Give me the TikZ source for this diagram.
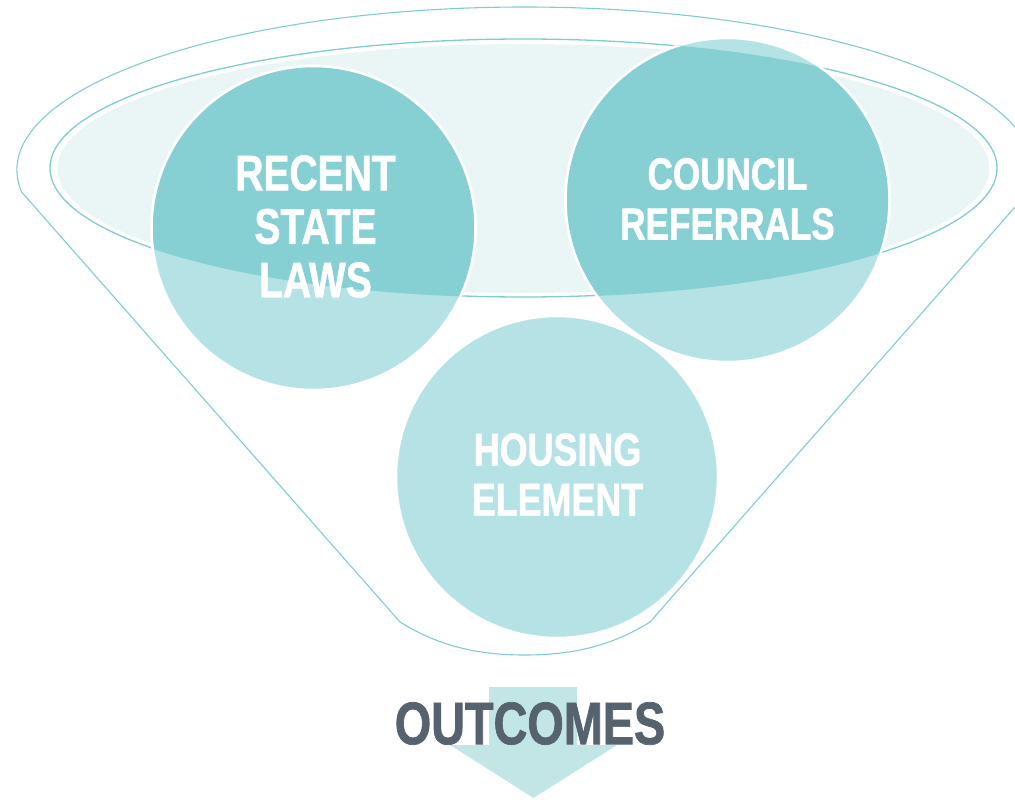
\documentclass[tikz,border=0pt]{standalone}
\usepackage{fontspec}
\newfontfamily\condfont[FakeStretch=0.78,FakeBold=1.2]{Liberation Sans}
\definecolor{tealline}{HTML}{7FCCD0}
\definecolor{ellfill}{HTML}{EAF6F6}
\definecolor{circlight}{HTML}{B5E2E4}
\definecolor{circdark}{HTML}{86CFD3}
\definecolor{arrowcol}{HTML}{C2E5E6}
\definecolor{slate}{HTML}{56636F}
\tikzset{
  funnelline/.style={draw=tealline, line width=1.1pt},
  ellline/.style={draw=tealline, line width=1.3pt},
  lightcirc/.style={fill=circlight, draw=white, line width=2.5pt},
  darkcirc/.style={fill=circdark, draw=white, line width=2.5pt},
  circtext/.style={text=white, align=center, inner sep=0pt, font=\condfont\bfseries},
}
\begin{document}
\begin{tikzpicture}[x=1pt,y=-1pt]
\useasboundingbox (0,0) rectangle (1015,800);
\clip (0,0) rectangle (1015,800);
% outer funnel
\draw[funnelline] (21.6,192) arc[start angle=187.76, end angle=-7.76, x radius=508pt, y radius=163pt]
  -- (650,622) .. controls (610,647) and (570,655) .. (525,655)
  .. controls (480,655) and (440,647) .. (400,622) -- cycle;
% inner ellipse
\draw[ellline] (523.5,168) ellipse [x radius=473.5pt, y radius=129pt];
\fill[ellfill] (523.5,168.5) ellipse [x radius=466pt, y radius=124.5pt];
% circles
\path[lightcirc] (313.5,228) circle[radius=162pt];
\path[lightcirc] (727.5,200) circle[radius=162pt];
\path[lightcirc] (557,477) circle[radius=161pt];
\begin{scope}
  \clip (523.5,168) ellipse [x radius=474pt, y radius=129.5pt];
  \path[darkcirc] (313.5,228) circle[radius=162pt];
  \path[darkcirc] (727.5,200) circle[radius=162pt];
\end{scope}
% arrow
\fill[arrowcol] (489,687) -- (577,687) -- (577,745) -- (617,745) -- (533.5,798) -- (450,745) -- (489,745) -- cycle;
% texts
\node[circtext, font=\condfont\bfseries\fontsize{50}{53.5}\selectfont] (recent) at (315.5,226.5) {RECENT\\STATE\\LAWS};
\node[circtext, font=\condfont\bfseries\fontsize{45}{50}\selectfont] (council) at (727.5,199) {COUNCIL\\REFERRALS};
\node[circtext, font=\condfont\bfseries\fontsize{46}{50}\selectfont] (housing) at (557.5,474.5) {HOUSING\\ELEMENT};
\node[text=slate, inner sep=0pt, font=\condfont\bfseries\fontsize{60}{60}\selectfont] (outcomes) at (530,723.5) {OUTCOMES};
\end{tikzpicture}
\end{document}
